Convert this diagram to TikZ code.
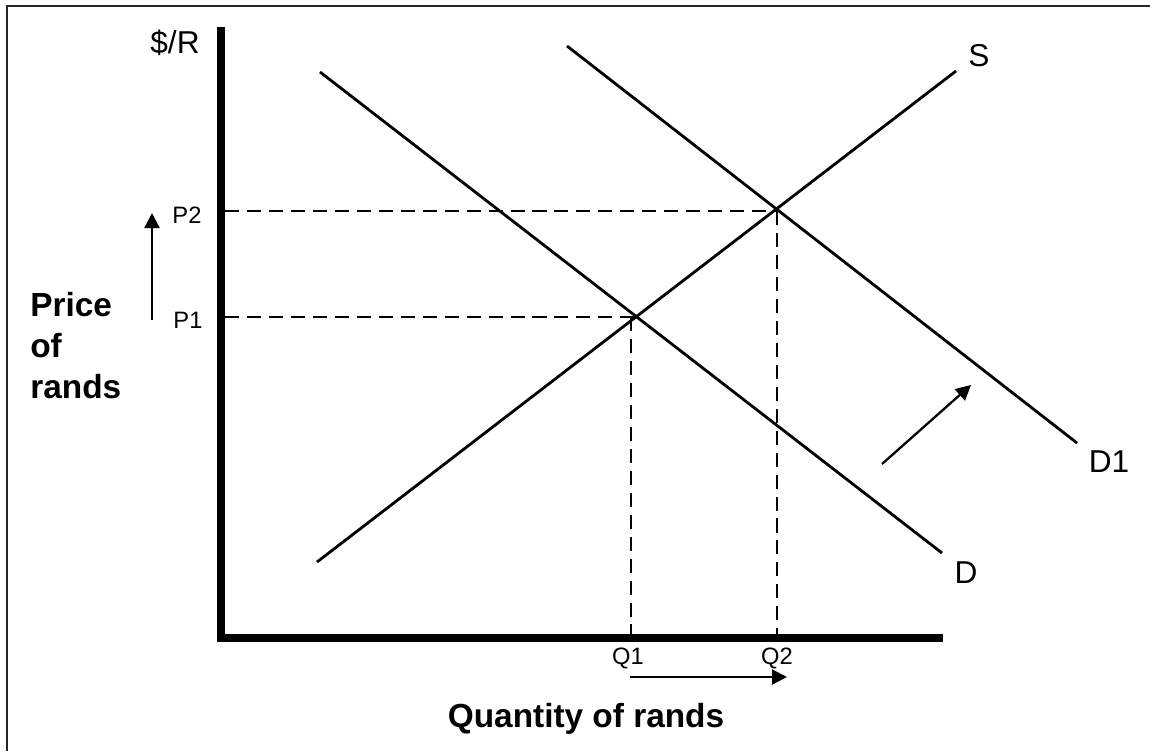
\documentclass[tikz,border=0pt]{standalone}
\usepackage{fontspec}
\setmainfont{Liberation Sans}
\usetikzlibrary{arrows.meta}
\tikzset{
  frameline/.style={line width=1.1pt, draw=black!85},
  axisline/.style={line width=4.6pt, line join=miter},
  curveline/.style={line width=1.6pt},
  guideline/.style={line width=1.3pt, dash pattern=on 8pt off 4.5pt},
  moveflow/.style={-{Triangle[length=0.3cm, width=0.3cm]}, line width=1.3pt},
  ticklabel/.style={font=\fontsize{13.5}{16}\selectfont, inner sep=0pt},
  curvelabel/.style={font=\fontsize{18}{21}\selectfont, inner sep=0pt},
  axistitle/.style={font=\bfseries\fontsize{19}{23.2}\selectfont, inner sep=0pt, align=left},
}
\begin{document}
\begin{tikzpicture}[x=0.02cm, y=-0.02cm]
  \useasboundingbox (0,0) rectangle (1150,751);

  % ----------------------------------------------------------------
  % Frame (top and left edges only)
  % ----------------------------------------------------------------
  \coordinate (frameTL) at (7,6);
  \coordinate (frameTR) at (1150,6);
  \coordinate (frameBL) at (7,751);
  \draw[frameline] (frameTR) -- (frameTL) -- (frameBL);

  % ----------------------------------------------------------------
  % Axes
  % ----------------------------------------------------------------
  \coordinate (ytop) at (221,27);
  \coordinate (origin) at (221,638);
  \coordinate (xend) at (943,638);
  \draw[axisline] (ytop) -- (origin) -- (xend);

  % ----------------------------------------------------------------
  % Supply and demand curves
  % ----------------------------------------------------------------
  \coordinate (dA) at (320,72);   \coordinate (dB) at (942,553);
  \coordinate (dOneA) at (567,46); \coordinate (dOneB) at (1077,443);
  \coordinate (sA) at (317,562);  \coordinate (sB) at (956,71);
  \draw[curveline] (dA) -- (dB);
  \draw[curveline] (dOneA) -- (dOneB);
  \draw[curveline] (sA) -- (sB);

  % ----------------------------------------------------------------
  % Equilibrium guides
  % ----------------------------------------------------------------
  \coordinate (eOne) at (636,317);
  \coordinate (eTwo) at (777,211);
  \coordinate (pOneAx) at (225,317); \coordinate (pTwoAx) at (225,211);
  \coordinate (qOneTop) at (631,317); \coordinate (qOneAx) at (631,634);
  \coordinate (qTwoAx) at (777,634);
  \draw[guideline] (pOneAx) -- (eOne);
  \draw[guideline] (pTwoAx) -- (eTwo);
  \draw[guideline] (qOneTop) -- (qOneAx);
  \draw[guideline] (eTwo) -- (qTwoAx);

  % ----------------------------------------------------------------
  % Labels
  % ----------------------------------------------------------------
  \node[curvelabel] (unit) at (175,43) {\$/R};
  \node[curvelabel] (slab) at (979,56) {S};
  \node[curvelabel] (donelab) at (1109,462) {D1};
  \node[curvelabel] (dlab) at (966,573) {D};
  \node[ticklabel] (ptwo) at (187,215) {P2};
  \node[ticklabel] (pone) at (188,320) {P1};
  \node[ticklabel] (qone) at (628,658) {Q1};
  \node[ticklabel] (qtwo) at (777,658) {Q2};
  \node[axistitle, anchor=north west] (ytitle) at (30,292) {Price\\of\\rands};
  \node[axistitle, anchor=base] (xtitle) at (586,727) {Quantity of rands};

  % ----------------------------------------------------------------
  % Shift arrows
  % ----------------------------------------------------------------
  \coordinate (upA) at (152,320);  \coordinate (upB) at (152,213);
  \coordinate (rtA) at (630,677);  \coordinate (rtB) at (787,677);
  \coordinate (dgA) at (882,464);  \coordinate (dgB) at (971,385);
  \draw[moveflow] (upA) -- (upB);
  \draw[moveflow] (rtA) -- (rtB);
  \draw[moveflow] (dgA) -- (dgB);

\end{tikzpicture}
\end{document}
